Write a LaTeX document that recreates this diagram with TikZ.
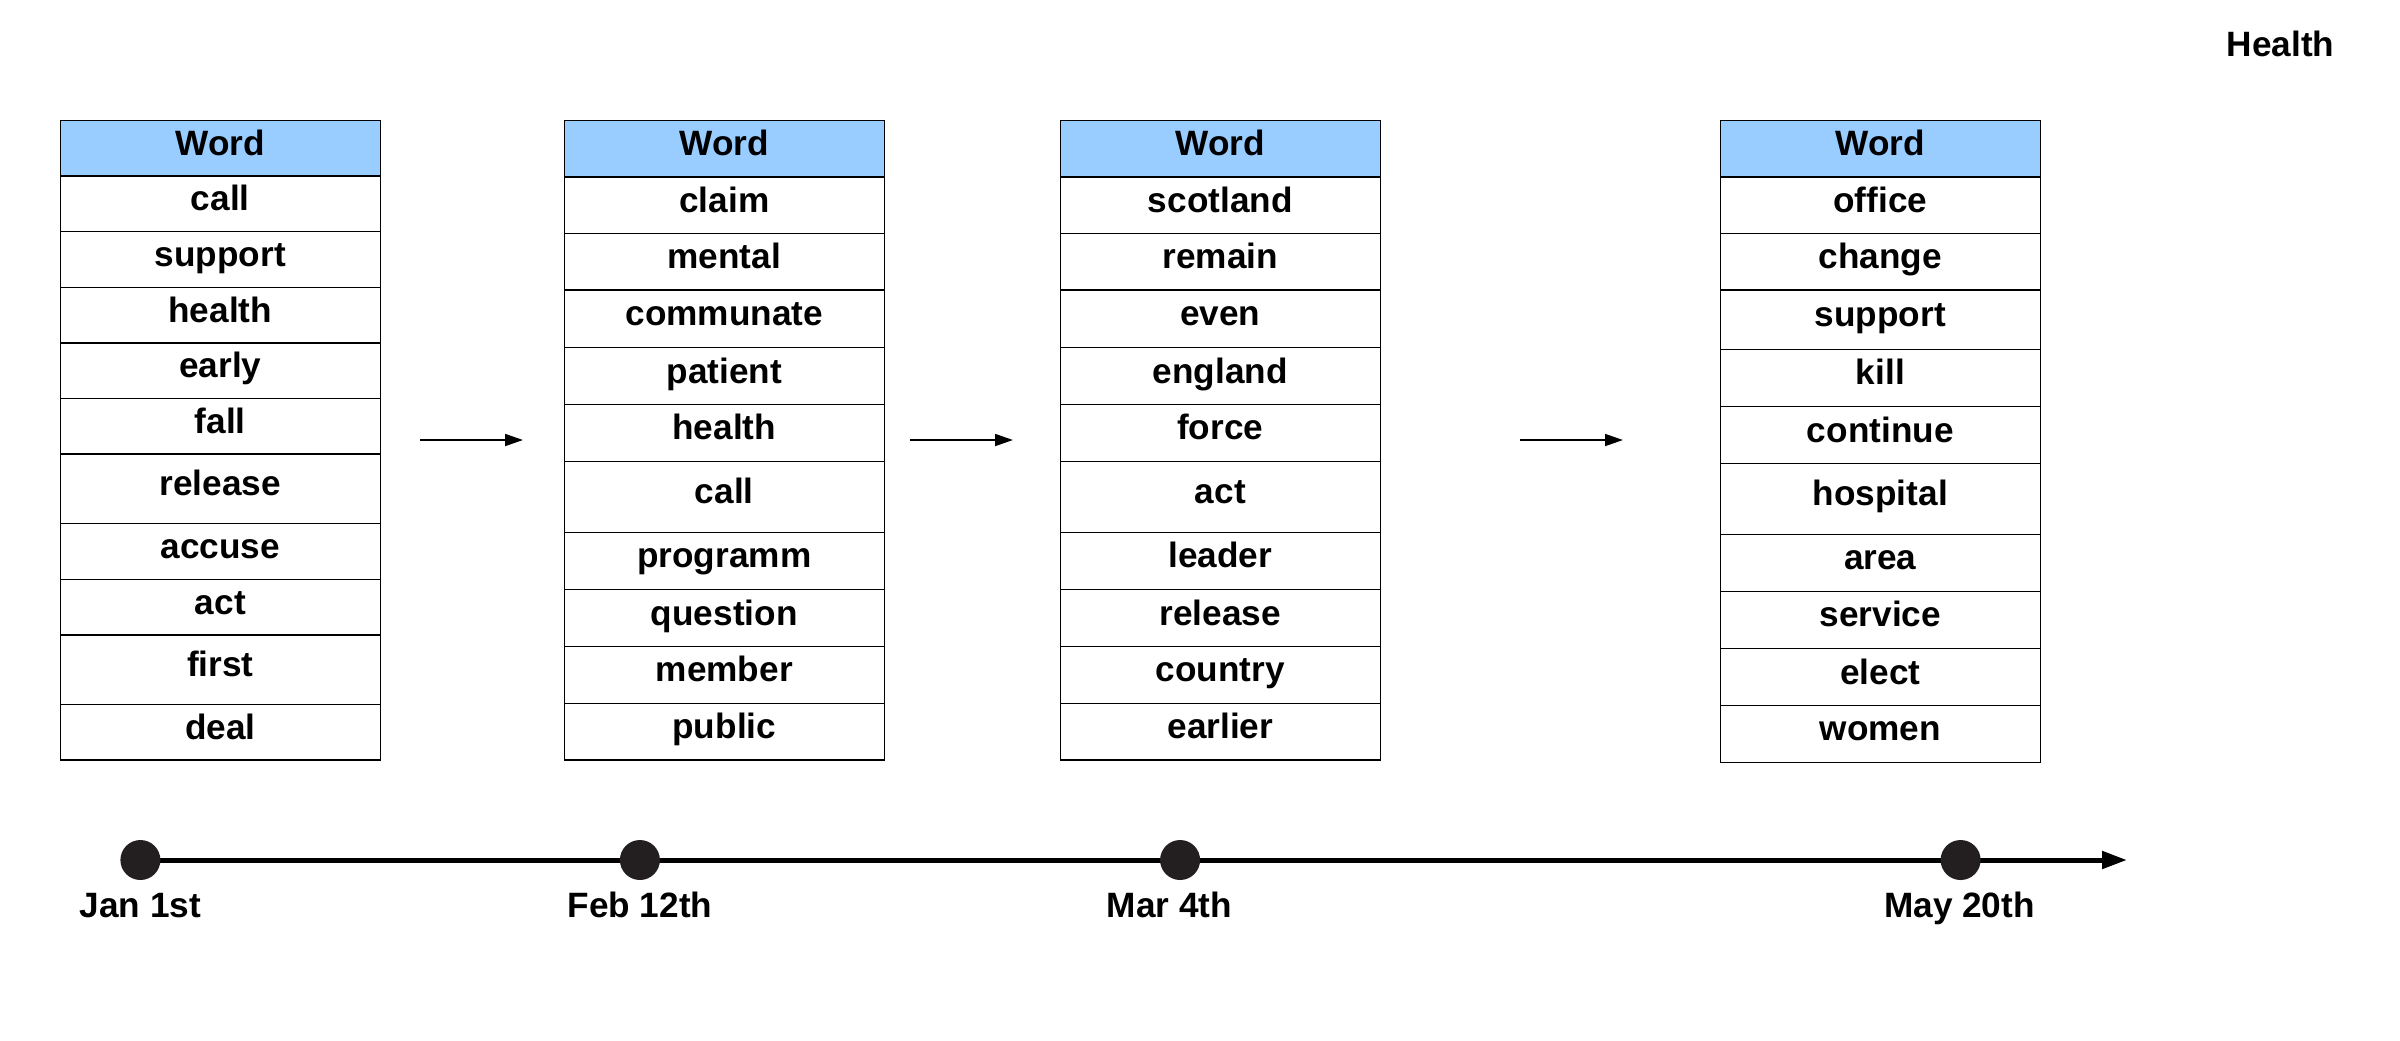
\documentclass[tikz,border=0pt]{standalone}
\usepackage{fontspec}
\setmainfont{Liberation Sans}
\usetikzlibrary{arrows.meta}
\definecolor{hdrblue}{HTML}{99CCFF}
\definecolor{dotgray}{HTML}{231F20}
\newcommand{\wordtab}[5]{%
  \draw[hdr] (#2,120.4) rectangle (#3,#4);
  \node[word] (#1h) at ({(#2+#3)/2},{(120.4+#4)/2+7}) {Word};
  \foreach \ya/\yb/\w [count=\i] in {#5} {
    \draw[cell] (#2,\ya) rectangle (#3,\yb);
    \node[word] (#1r\i) at ({(#2+#3)/2},{(\ya+\yb)/2+7}) {\w};
  }
  \draw[rule] (#2,#4) -- (#3,#4);
}
\begin{document}
\begin{tikzpicture}[x=0.5pt,y=-0.5pt,
  cell/.style={draw=black,line width=0.6pt,fill=white},
  hdr/.style={draw=black,line width=0.6pt,fill=hdrblue},
  rule/.style={draw=black,line width=1pt},
  word/.style={anchor=base,inner sep=0pt,font=\fontsize{17.6pt}{21pt}\selectfont\bfseries},
  lbl/.style={anchor=base,inner sep=0pt,font=\fontsize{17.6pt}{21pt}\selectfont\bfseries},
  flow/.style={line width=0.9pt,-{Triangle[length=9pt,width=6pt]}},
  axis/.style={line width=2.5pt,-{Triangle[length=12.5pt,width=8.5pt]}},
  dot/.style={circle,fill=dotgray,minimum size=20pt,inner sep=0pt}]
\useasboundingbox (0,0) rectangle (2400,1040);
\fill[white] (0,0) rectangle (2400,1040);

% title
\node[lbl] (title) at (2280.5,56.7) {Health};

% tables
\wordtab{ta}{60.3}{380.3}{176.3}{176.3/231.4/call,231.4/287.3/support,287.3/342.8/health,342.8/398.4/early,398.4/454.3/fall,454.3/523.2/release,523.2/579.6/accuse,579.6/634.7/act,634.7/704.1/first,704.1/760/deal}
\draw[rule] (60.3,342.8) -- (380.3,342.8);
\draw[rule] (60.3,454.3) -- (380.3,454.3);
\draw[rule] (60.3,634.7) -- (380.3,634.7);

\wordtab{tb}{564.3}{884.3}{177.2}{177.2/233.6/claim,233.6/289.9/mental,289.9/347.6/communate,347.6/404.4/patient,404.4/461.2/health,461.2/532.3/call,532.3/589.6/programm,589.6/646.4/question,646.4/703.2/member,703.2/760/public}

\wordtab{tc}{1060.3}{1380.3}{177.2}{177.2/233.6/scotland,233.6/289.9/remain,289.9/347.6/even,347.6/404.4/england,404.4/461.2/force,461.2/532.3/act,532.3/589.6/leader,589.6/646.4/release,646.4/703.2/country,703.2/760/earlier}

\wordtab{td}{1720.3}{2040.3}{177.2}{177.2/233.6/office,233.6/289.9/change,289.9/349.3/support,349.3/406.6/kill,406.6/463.4/continue,463.4/534.1/hospital,534.1/591.3/area,591.3/648.6/service,648.6/705.4/elect,705.4/762.2/women}

% arrows between tables
\coordinate (a1s) at (420,440);  \coordinate (a1e) at (523,440);
\coordinate (a2s) at (910,440);  \coordinate (a2e) at (1013,440);
\coordinate (a3s) at (1520,440); \coordinate (a3e) at (1623,440);
\draw[flow] (a1s) -- (a1e);
\draw[flow] (a2s) -- (a2e);
\draw[flow] (a3s) -- (a3e);

% timeline
\coordinate (t1) at (140.4,860);
\coordinate (t2) at (639.9,860);
\coordinate (t3) at (1180.1,860);
\coordinate (t4) at (1960.6,860);
\coordinate (tend) at (2127,860);
\draw[axis] (t1) -- (tend);
\node[dot] (d1) at (t1) {};
\node[dot] (d2) at (t2) {};
\node[dot] (d3) at (t3) {};
\node[dot] (d4) at (t4) {};
\node[lbl] (l1) at (140.4,917.3) {Jan 1st};
\node[lbl] (l2) at (639.9,917.3) {Feb 12th};
\node[lbl] (l3) at (1169.5,917.3) {Mar 4th};
\node[lbl] (l4) at (1959.5,917.3) {May 20th};
\end{tikzpicture}
\end{document}
